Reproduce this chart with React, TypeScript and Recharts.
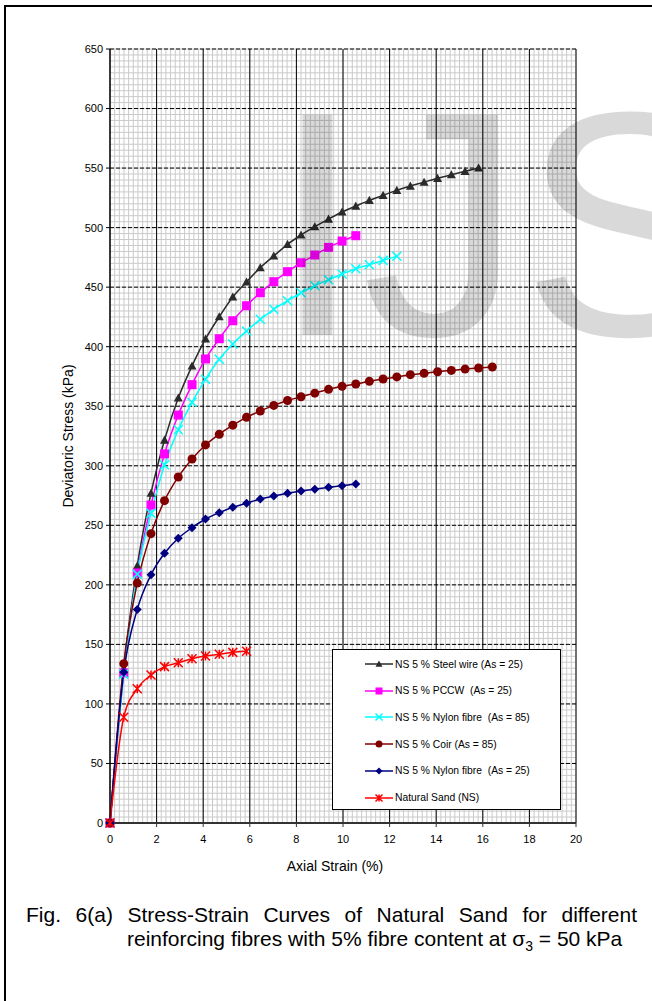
import React from "react";
import { LineChart, Line, XAxis, YAxis, CartesianGrid, Legend, Label } from "recharts";

// axial strain (%) at each reading
const STRAIN = [
  0, 0.59, 1.17, 1.76, 2.34, 2.93, 3.52, 4.1, 4.69, 5.27, 5.86, 6.45, 7.03, 7.62, 8.2,
  8.79, 9.38, 9.96, 10.55, 11.13, 11.72, 12.31, 12.89, 13.48, 14.06, 14.65, 15.24, 15.82, 16.41,
];

// deviatoric stress (kPa)
const STEEL_WIRE_25 = [
  0, 130, 216, 277, 321.6, 356.9, 383.8, 406.5, 425.2, 441.8, 454.4, 466.4, 476.2, 486,
  493.8, 500.8, 507.2, 513.1, 518.1, 522.9, 527.1, 531.3, 534.9, 538.2, 541.4, 544.4, 547.3, 550.1,
];
const PCCW_25 = [
  0, 126, 210, 267, 310, 342.6, 368.1, 389.7, 406.7, 421.8, 434.4, 445.3, 454.6, 463, 470.5,
  477, 483.4, 488.7, 493.2,
];
const NYLON_85 = [
  0, 125, 209, 260, 300.6, 330.3, 353.3, 372.6, 389.4, 402.3, 413.2, 423, 431.4, 438.6, 445.3,
  451.2, 456.2, 461, 465.5, 468.8, 472.5, 475.9,
];
const COIR_85 = [
  0, 133.8, 201.5, 243, 270.7, 290.6, 305.7, 317.5, 326.5, 334.1, 340.7, 346, 350.7, 354.8,
  358, 361, 364.2, 366.7, 368.7, 370.9, 372.9, 374.6, 376.5, 377.6, 379, 380.1, 381.2, 382.1, 382.9,
];
const NYLON_25 = [
  0, 126.5, 179.4, 208.5, 226.5, 239.1, 248, 255.3, 260.6, 265.1, 268.5, 272.1, 274.6, 276.9,
  278.8, 280.2, 281.9, 283.3, 284.6,
];
const NATURAL_SAND = [0, 88.8, 112.8, 124.3, 131.3, 134.6, 138, 140.2, 141.7, 143.3, 144.2];

const X_TICKS = [0, 2, 4, 6, 8, 10, 12, 14, 16, 18, 20];
const Y_TICKS = [0, 50, 100, 150, 200, 250, 300, 350, 400, 450, 500, 550, 600, 650];

// graph-paper lines between the major ticks
const X_MINOR = Array.from({ length: 101 }, (_, i) => Math.round(i * 2) / 10);
const Y_MINOR = Array.from({ length: 131 }, (_, i) => i * 5);

type Shape = "triangle" | "square" | "cross" | "circle" | "diamond" | "star";

const SERIES: { key: string; name: string; values: number[]; color: string; shape: Shape }[] = [
  { key: "steel", name: "NS 5 % Steel wire (As = 25)", values: STEEL_WIRE_25, color: "#2b2b2b", shape: "triangle" },
  { key: "pccw", name: "NS 5 % PCCW  (As = 25)", values: PCCW_25, color: "#ff00ff", shape: "square" },
  { key: "nylon85", name: "NS 5 % Nylon fibre  (As = 85)", values: NYLON_85, color: "#00ffff", shape: "cross" },
  { key: "coir", name: "NS 5 % Coir (As = 85)", values: COIR_85, color: "#800000", shape: "circle" },
  { key: "nylon25", name: "NS 5 % Nylon fibre  (As = 25)", values: NYLON_25, color: "#000080", shape: "diamond" },
  { key: "sand", name: "Natural Sand (NS)", values: NATURAL_SAND, color: "#ff0000", shape: "star" },
];

const data = STRAIN.map((strain, i) => {
  const row: Record<string, number> = { strain };
  SERIES.forEach((s) => {
    if (i < s.values.length) row[s.key] = s.values[i];
  });
  return row;
});

const FONT = "'Liberation Sans', Arial, sans-serif";

function Marker({ shape, x, y, color, size }: { shape: Shape; x: number; y: number; color: string; size: number }) {
  const h = size / 2;
  switch (shape) {
    case "triangle":
      return <polygon points={`${x},${y - h} ${x + h},${y + h * 0.8} ${x - h},${y + h * 0.8}`} fill={color} />;
    case "square":
      return <rect x={x - h} y={y - h} width={size} height={size} fill={color} />;
    case "cross":
      return (
        <path
          d={`M${x - h},${y - h}L${x + h},${y + h}M${x - h},${y + h}L${x + h},${y - h}`}
          stroke={color}
          strokeWidth={1.5}
          fill="none"
        />
      );
    case "circle":
      return <circle cx={x} cy={y} r={h} fill={color} />;
    case "diamond":
      return <polygon points={`${x},${y - h} ${x + h},${y} ${x},${y + h} ${x - h},${y}`} fill={color} />;
    case "star":
      return (
        <path
          d={`M${x - h},${y - h}L${x + h},${y + h}M${x - h},${y + h}L${x + h},${y - h}M${x},${y - h}L${x},${y + h}`}
          stroke={color}
          strokeWidth={1.5}
          fill="none"
        />
      );
  }
  return null;
}

const makeDot = (shape: Shape, color: string) => (p: any) => {
  if (p.cx == null || p.cy == null || p.value == null) return <g key={`d-${p.index}`} />;
  return (
    <g key={`d-${p.index}`}>
      <Marker shape={shape} x={p.cx} y={p.cy} color={color} size={9} />
    </g>
  );
};

const renderLegend = () => (
  <div
    style={{
      width: 229,
      height: 161,
      border: "1px solid #000",
      background: "#fff",
      boxSizing: "border-box",
      position: "relative",
      fontFamily: FONT,
    }}
  >
    {SERIES.map((s, i) => (
      <div
        key={s.key}
        style={{ position: "absolute", left: 32, top: 7 + i * 26.7, height: 14, display: "flex", alignItems: "center" }}
      >
        <svg width={28} height={14}>
          <line x1={0} y1={7} x2={28} y2={7} stroke={s.color} strokeWidth={1.5} />
          <Marker shape={s.shape} x={14} y={7} color={s.color} size={7} />
        </svg>
        <span style={{ fontSize: 10.3, marginLeft: 2, whiteSpace: "pre", color: "#000" }}>{s.name}</span>
      </div>
    ))}
  </div>
);

export default function App() {
  return (
    <div
      style={{
        position: "fixed",
        left: 0,
        top: 0,
        width: 652,
        height: 1001,
        overflow: "hidden",
        background: "#fff",
        fontFamily: FONT,
      }}
    >
      <div
        style={{
          position: "absolute",
          left: 4,
          top: 5,
          width: 700,
          height: 1100,
          borderLeft: "2px solid #000",
          borderTop: "2px solid #000",
        }}
      />
      <div style={{ position: "absolute", left: 0, top: 0 }}>
        <LineChart
          width={652}
          height={900}
          data={data}
          margin={{ top: 49, right: 76, bottom: 17, left: 50 }}
          style={{ fontFamily: FONT }}
        >
          <XAxis
            xAxisId="minor"
            type="number"
            dataKey="strain"
            domain={[0, 20]}
            ticks={X_MINOR}
            interval={0}
            hide
            allowDataOverflow
          />
          <YAxis yAxisId="minor" type="number" domain={[0, 650]} ticks={Y_MINOR} interval={0} hide allowDataOverflow />
          <CartesianGrid xAxisId="minor" yAxisId="minor" stroke="#cacaca" strokeWidth={1} />
          <CartesianGrid horizontal={false} stroke="#000" strokeWidth={1} />
          <CartesianGrid vertical={false} stroke="#000" strokeWidth={1} strokeDasharray="4 2" />
          <XAxis
            type="number"
            dataKey="strain"
            domain={[0, 20]}
            ticks={X_TICKS}
            interval={0}
            height={60}
            tickSize={4}
            tickMargin={8}
            axisLine={{ stroke: "#333", strokeWidth: 2 }}
            tickLine={{ stroke: "#333" }}
            tick={{ fill: "#000", fontSize: 11 }}
          >
            <Label
              content={({ viewBox }: any) => (
                <text x={viewBox.x + viewBox.width / 2 - 8} y={viewBox.y + 48} textAnchor="middle" fontSize={14} fill="#000">
                  Axial Strain (%)
                </text>
              )}
            />
          </XAxis>
          <YAxis
            type="number"
            domain={[0, 650]}
            ticks={Y_TICKS}
            interval={0}
            width={60}
            tickSize={4}
            tickMargin={3}
            axisLine={{ stroke: "#000" }}
            tickLine={{ stroke: "#000" }}
            tick={{ fill: "#000", fontSize: 11 }}
          >
            <Label
              content={({ viewBox }: any) => {
                const cx = viewBox.x + 23;
                const cy = viewBox.y + viewBox.height / 2;
                return (
                  <text x={cx} y={cy} transform={`rotate(-90 ${cx} ${cy})`} textAnchor="middle" fontSize={14} fill="#000">
                    Deviatoric Stress (kPa)
                  </text>
                );
              }}
            />
          </YAxis>
          {SERIES.map((s) => (
            <Line
              key={s.key}
              dataKey={s.key}
              name={s.name}
              type="monotone"
              stroke={s.color}
              strokeWidth={1.5}
              dot={makeDot(s.shape, s.color)}
              activeDot={false}
              isAnimationActive={false}
            />
          ))}
          <Legend
            layout="vertical"
            align="center"
            verticalAlign="middle"
            content={renderLegend}
            wrapperStyle={{ left: 332, top: 649, width: 229, height: 161 }}
          />
        </LineChart>
      </div>
      <svg width={652} height={1001} style={{ position: "absolute", left: 0, top: 0, pointerEvents: "none" }}>
        <text x={273} y={335} fontSize={320} fontFamily={FONT} fill="rgba(0,0,0,0.15)">
          IJS
        </text>
      </svg>
      <div
        style={{
          position: "absolute",
          left: 26,
          top: 903,
          width: 611,
          fontSize: 21,
          lineHeight: "24px",
          color: "#000",
          textAlign: "justify",
          textAlignLast: "justify",
        }}
      >
        Fig. 6(a) Stress-Strain Curves of Natural Sand for different
      </div>
      <div
        style={{
          position: "absolute",
          left: 127,
          top: 927,
          fontSize: 21,
          lineHeight: "24px",
          color: "#000",
          whiteSpace: "nowrap",
        }}
      >
        reinforcing fibres with 5% fibre content at σ<sub style={{ fontSize: 14, lineHeight: 0 }}>3</sub> = 50 kPa
      </div>
    </div>
  );
}
